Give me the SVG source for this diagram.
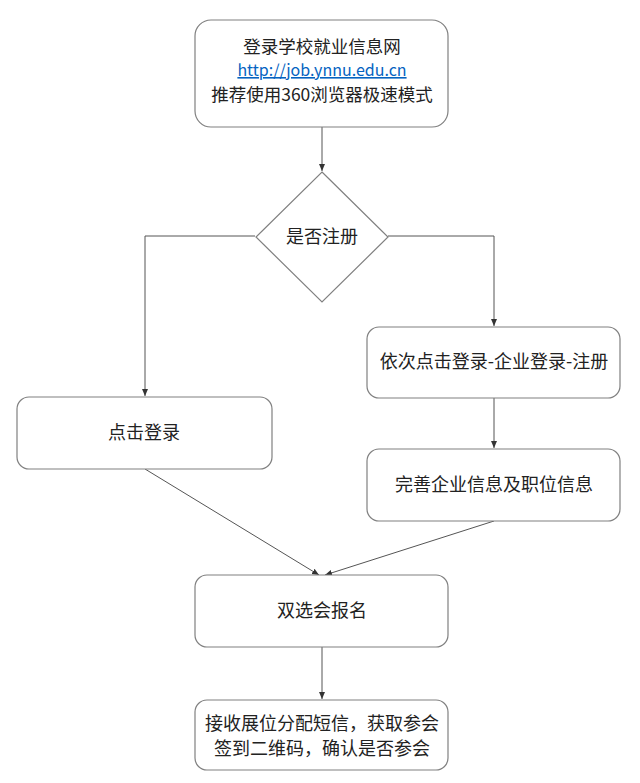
<svg xmlns="http://www.w3.org/2000/svg" width="640" height="783" viewBox="0 0 640 783">
<style>
.box{fill:#fff;stroke:#808080;stroke-width:1.2}
.t{font-family:"Noto Sans CJK SC","Noto Sans",sans-serif;font-size:18px;fill:#222;text-anchor:middle}
.s{font-size:17.5px}
.link{fill:#0563C1;text-decoration:underline;font-size:16px}
.c{fill:none;stroke:#555;stroke-width:1}
</style>
<defs>
<marker id="ah" markerWidth="8" markerHeight="8" refX="7" refY="4" orient="auto" markerUnits="userSpaceOnUse">
<path d="M0,1 L7,4 L0,7 Z" fill="#333"/>
</marker>
</defs>
<rect width="640" height="783" fill="#fff"/>
<g id="connectors">
<line class="c" x1="322" y1="127" x2="322" y2="171" marker-end="url(#ah)"/>
<polyline class="c" points="255,236 145,236 145,396" marker-end="url(#ah)"/>
<polyline class="c" points="388,236 494,236 494,326" marker-end="url(#ah)"/>
<line class="c" x1="494" y1="398" x2="494" y2="448" marker-end="url(#ah)"/>
<line class="c" x1="145" y1="469" x2="319" y2="575" marker-end="url(#ah)"/>
<line class="c" x1="494" y1="521" x2="325" y2="575" marker-end="url(#ah)"/>
<line class="c" x1="322" y1="647" x2="322" y2="699" marker-end="url(#ah)"/>
</g>
<g id="start">
<rect class="box" x="195" y="20" width="253" height="107" rx="16"/>
<text class="t s" x="322" y="53">登录学校就业信息网</text>
<text class="t link" x="322" y="76" font-family="'Open Sans','Noto Sans',sans-serif">http://job.ynnu.edu.cn</text>
<text class="t s" x="322" y="101">推荐使用360浏览器极速模式</text>
</g>
<g id="decision">
<polygon class="box" points="322,172 388,237 322,302 256,237"/>
<text class="t" x="322" y="243">是否注册</text>
</g>
<g id="login">
<rect class="box" x="17" y="397" width="255" height="72" rx="12"/>
<text class="t" x="144" y="439">点击登录</text>
</g>
<g id="register">
<rect class="box" x="367" y="327" width="253" height="71" rx="12"/>
<text class="t" x="494" y="368">依次点击登录-企业登录-注册</text>
</g>
<g id="complete">
<rect class="box" x="367" y="449" width="253" height="72" rx="12"/>
<text class="t" x="494" y="491">完善企业信息及职位信息</text>
</g>
<g id="signup">
<rect class="box" x="195" y="575" width="253" height="72" rx="12"/>
<text class="t" x="322" y="617">双选会报名</text>
</g>
<g id="final">
<rect class="box" x="195" y="700" width="253" height="70" rx="12"/>
<text class="t" x="322" y="730">接收展位分配短信，获取参会</text>
<text class="t" x="322" y="755">签到二维码，确认是否参会</text>
</g>
</svg>
